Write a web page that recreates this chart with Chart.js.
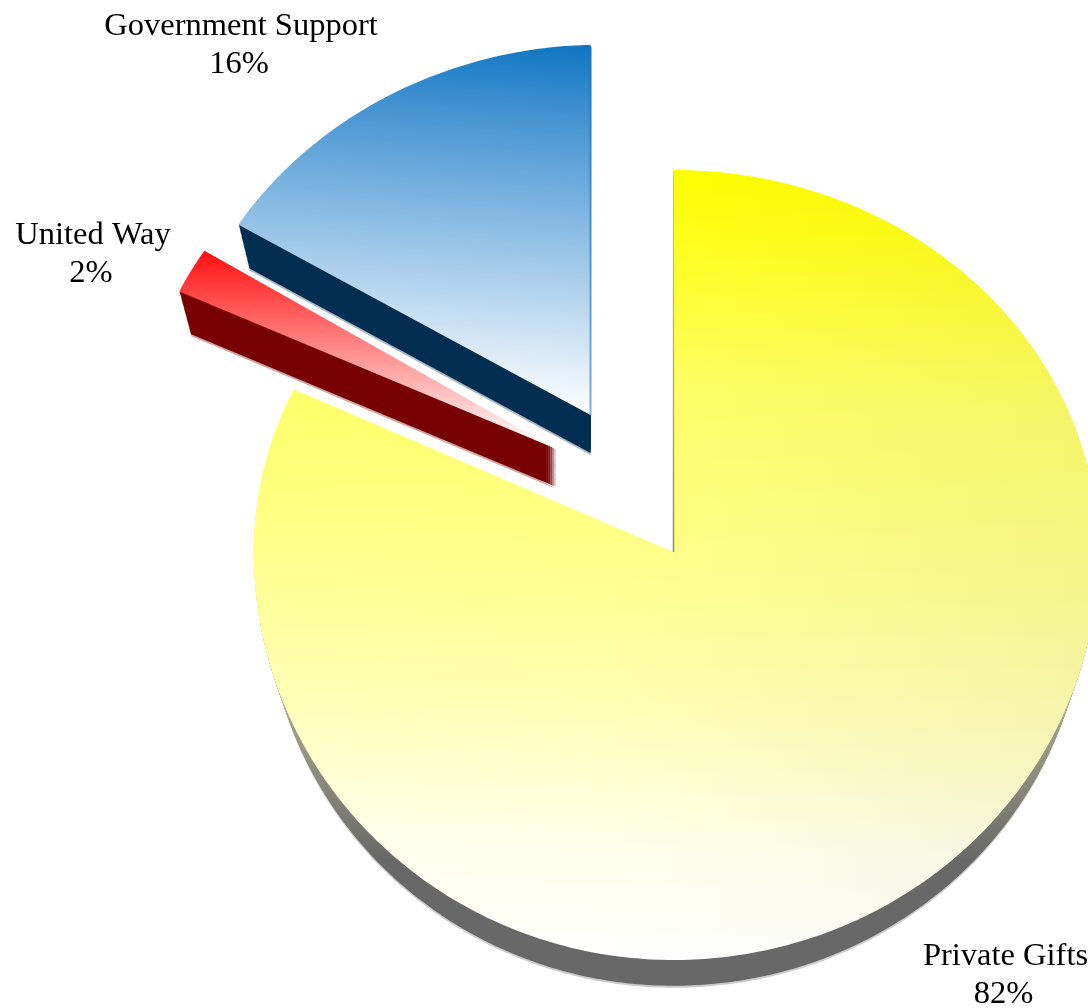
<!DOCTYPE html>
<html>
<head>
<meta charset="utf-8">
<title>Revenue sources</title>
<script src="https://cdn.jsdelivr.net/npm/chart.js@4"></script>
<style>
  html, body { margin: 0; padding: 0; background: #fff; }
  canvas { display: block; }
</style>
</head>
<body>
<canvas id="pie" width="1088" height="1008"></canvas>
<script>
const categories = ['Private Gifts', 'United Way', 'Government Support'];
const shares = [82, 2, 16];

// exploded slices: how far each one is pulled away from the centre
const sliceShift = [[0, 0], [-117, -103], [-83, -137]];
// the disc leans back, so the far half is flatter than the near half
const farSquash = [0.899, 0.871, 0.871];
const nearSquash = 0.96;
const leftSquash = [0.988, 0.981, 0.981];
const sliceShear = [0, 0, -0.0227];
const depth = 38;
const depthShrink = 0.03;

const topFill = [
  { line: [690, 170, 660, 955], stops: [[0, '#ffff00'], [0.08, '#ffff18'], [0.28, '#ffff66'], [0.5, '#ffff8c'], [0.68, '#ffffb4'], [0.85, '#ffffe8'], [1, '#ffffff']] },
  { line: [0, 255, 0, 445], stops: [[0, '#ff1414'], [0.5, '#ff8c8c'], [1, '#ffffff']] },
  { line: [600, 45, 575, 415], stops: [[0, '#0f74bf'], [0.16, '#3a8dcf'], [0.5, '#8abce4'], [1, '#ffffff']] }
];
const sideFill = [
  { line: [0, 680, 0, 860], stops: [[0, '#b4b494'], [1, '#686868']] },
  { line: [0, 0, 0, 1], stops: [[0, '#770000'], [1, '#770000']] },
  { line: [0, 0, 0, 1], stops: [[0, '#002d50'], [1, '#002d50']] }
];
// [slice, centre x, first baseline]
const labelSpots = [[0, 1005.5, 965], [1, 93, 244], [2, 241, 35]];

function makeGradient(ctx, spec) {
  const g = ctx.createLinearGradient(...spec.line);
  spec.stops.forEach(s => g.addColorStop(s[0], s[1]));
  return g;
}

function slicePath(ctx, arc, i, shrink, drop) {
  const cx = arc.x + sliceShift[i][0];
  const cy = arc.y + sliceShift[i][1] + drop;
  const r = arc.outerRadius * shrink;
  const steps = Math.ceil((arc.endAngle - arc.startAngle) * 80);
  ctx.beginPath();
  ctx.moveTo(cx, cy);
  for (let s = 0; s <= steps; s++) {
    const a = arc.startAngle + (arc.endAngle - arc.startAngle) * s / steps;
    const sy = Math.sin(a) < 0 ? farSquash[i] : nearSquash;
    const sx = Math.cos(a) < 0 ? leftSquash[i] : 1;
    const dx = r * sx * Math.cos(a);
    ctx.lineTo(cx + dx, cy + r * sy * Math.sin(a) + sliceShear[i] * dx);
  }
  ctx.closePath();
}

const tiltedSlices = {
  id: 'tiltedSlices',
  beforeDatasetDraw(chart, args) {
    const ctx = chart.ctx;
    args.meta.data.forEach((arc, i) => {
      // pale fringe under the side wall
      ctx.globalAlpha = 0.35;
      ctx.fillStyle = makeGradient(ctx, sideFill[i]);
      slicePath(ctx, arc, i, 1 - depthShrink, depth + 2);
      ctx.fill();
      ctx.globalAlpha = 1;
      // side wall, stacked up from the bottom face
      for (let k = depth; k > 0; k--) {
        slicePath(ctx, arc, i, 1 - depthShrink * k / depth, k);
        ctx.fill();
      }
      slicePath(ctx, arc, i, 1, 0);
      ctx.fillStyle = arc.options.backgroundColor;
      ctx.fill();
      if (i === 0) {
        // slight darkening towards the right of the big slice
        const shade = ctx.createLinearGradient(600, 0, 1088, 0);
        shade.addColorStop(0, 'rgba(110,110,110,0)');
        shade.addColorStop(1, 'rgba(110,110,110,0.07)');
        ctx.fillStyle = shade;
        ctx.fill();
      }
    });
    // thin cut edges along the vertical sides
    const big = args.meta.data[0];
    const edge = ctx.createLinearGradient(0, 175, 0, 552);
    edge.addColorStop(0, 'rgba(170,170,40,0.2)');
    edge.addColorStop(1, 'rgba(130,130,90,0.9)');
    ctx.strokeStyle = edge;
    ctx.lineWidth = 1.5;
    ctx.beginPath();
    ctx.moveTo(big.x, big.y - 377);
    ctx.lineTo(big.x, big.y);
    ctx.stroke();
    const gov = args.meta.data[2];
    const gx = gov.x + sliceShift[2][0];
    const gy = gov.y + sliceShift[2][1];
    const edge2 = ctx.createLinearGradient(0, gy - 365, 0, gy);
    edge2.addColorStop(0, '#1474bc');
    edge2.addColorStop(0.5, '#4a8fc8');
    edge2.addColorStop(1, '#7fb0d8');
    ctx.strokeStyle = edge2;
    ctx.lineWidth = 2;
    ctx.beginPath();
    ctx.moveTo(gx, gy - 368);
    ctx.lineTo(gx, gy);
    ctx.stroke();
    return false;
  },
  afterDraw(chart) {
    const ctx = chart.ctx;
    ctx.save();
    ctx.fillStyle = '#000';
    ctx.textAlign = 'center';
    ctx.textBaseline = 'alphabetic';
    ctx.font = '32.5px "Liberation Serif"';
    labelSpots.forEach(([i, x, y]) => {
      ctx.fillText(categories[i], x, y);
      ctx.fillText(shares[i] + '%', x - 2, y + 38);
    });
    ctx.restore();
  }
};

new Chart(document.getElementById('pie'), {
  type: 'pie',
  data: {
    labels: categories,
    datasets: [{
      data: shares,
      borderWidth: 0,
      backgroundColor: c => makeGradient(c.chart.ctx, topFill[c.dataIndex])
    }]
  },
  options: {
    responsive: false,
    animation: false,
    radius: 425,
    layout: { padding: { left: 259, top: 96, right: 0, bottom: 0 } },
    plugins: { legend: { display: false }, tooltip: { enabled: false } }
  },
  plugins: [tiltedSlices]
});
</script>
</body>
</html>
